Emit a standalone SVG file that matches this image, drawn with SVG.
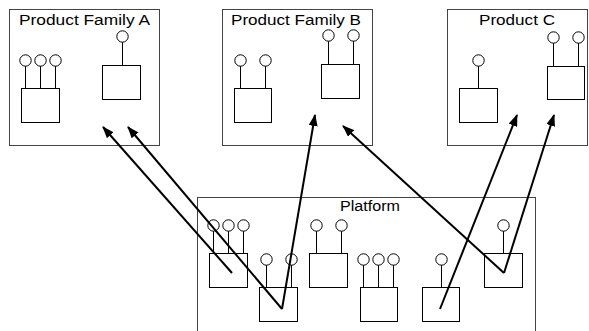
<svg xmlns="http://www.w3.org/2000/svg" width="589" height="331" viewBox="0 0 589 331">
  <style>
    .frame { fill: #ffffff; stroke: #444444; stroke-width: 1; }
    .comp rect { fill: #ffffff; stroke: #000000; stroke-width: 1; }
    .comp line { stroke: #000000; stroke-width: 1; }
    .comp circle { fill: #ffffff; stroke: #000000; stroke-width: 1; }
    .title { font-family: "Liberation Sans", Arial, sans-serif; font-size: 14px; fill: #000000; }
    .conn { stroke: #000000; stroke-width: 2; fill: none; marker-end: url(#head); }
  </style>
  <defs>
    <marker id="head" viewBox="0 0 12 9" refX="11" refY="4.5" markerWidth="12" markerHeight="9" markerUnits="userSpaceOnUse" orient="auto">
      <path d="M0,0 L12,4.5 L0,9 z" fill="#000000"/>
    </marker>
  </defs>

  <!-- Product Family A -->
  <g id="family-a">
    <rect class="frame" x="9.5" y="9.5" width="150" height="136"/>
    <text class="title" x="19" y="25" textLength="131" lengthAdjust="spacingAndGlyphs">Product Family A</text>
    <g class="comp" id="a-comp1">
      <line x1="25.5" y1="66" x2="25.5" y2="88"/>
      <line x1="40.5" y1="66" x2="40.5" y2="88"/>
      <line x1="55.5" y1="66" x2="55.5" y2="88"/>
      <circle cx="25.5" cy="60.5" r="5.7"/>
      <circle cx="40.5" cy="60.5" r="5.7"/>
      <circle cx="55.5" cy="60.5" r="5.7"/>
      <rect x="21.5" y="88.5" width="38" height="34"/>
    </g>
    <g class="comp" id="a-comp2">
      <line x1="122.5" y1="42" x2="122.5" y2="65"/>
      <circle cx="122.5" cy="36.5" r="5.7"/>
      <rect x="102.5" y="65.5" width="38" height="34"/>
    </g>
  </g>

  <!-- Product Family B -->
  <g id="family-b">
    <rect class="frame" x="222.5" y="9.5" width="150" height="136"/>
    <text class="title" x="231" y="25" textLength="130" lengthAdjust="spacingAndGlyphs">Product Family B</text>
    <g class="comp" id="b-comp1">
      <line x1="240.5" y1="66" x2="240.5" y2="88"/>
      <line x1="265.5" y1="66" x2="265.5" y2="88"/>
      <circle cx="240.5" cy="60.5" r="5.7"/>
      <circle cx="265.5" cy="60.5" r="5.7"/>
      <rect x="234.5" y="88.5" width="37" height="34"/>
    </g>
    <g class="comp" id="b-comp2">
      <line x1="328.5" y1="41" x2="328.5" y2="64"/>
      <line x1="353.5" y1="41" x2="353.5" y2="64"/>
      <circle cx="328.5" cy="35.5" r="5.7"/>
      <circle cx="353.5" cy="35.5" r="5.7"/>
      <rect x="321.5" y="64.5" width="38" height="34"/>
    </g>
  </g>

  <!-- Product C -->
  <g id="product-c">
    <rect class="frame" x="447.5" y="9.5" width="140" height="136"/>
    <text class="title" x="479" y="25" textLength="76" lengthAdjust="spacingAndGlyphs">Product C</text>
    <g class="comp" id="c-comp1">
      <line x1="478.5" y1="66" x2="478.5" y2="88"/>
      <circle cx="478.5" cy="60.5" r="5.7"/>
      <rect x="459.5" y="88.5" width="38" height="34"/>
    </g>
    <g class="comp" id="c-comp2">
      <line x1="553.5" y1="43" x2="553.5" y2="66"/>
      <line x1="578.5" y1="43" x2="578.5" y2="66"/>
      <circle cx="553.5" cy="37.5" r="5.7"/>
      <circle cx="578.5" cy="37.5" r="5.7"/>
      <rect x="547.5" y="66.5" width="37" height="33"/>
    </g>
  </g>

  <!-- Platform -->
  <g id="platform">
    <rect class="frame" x="197.5" y="197.5" width="338" height="145"/>
    <text class="title" x="340" y="211" textLength="60" lengthAdjust="spacingAndGlyphs">Platform</text>
    <g class="comp" id="p-comp1">
      <line x1="213.5" y1="231" x2="213.5" y2="253"/>
      <line x1="228.5" y1="231" x2="228.5" y2="253"/>
      <line x1="243.5" y1="231" x2="243.5" y2="253"/>
      <circle cx="213.5" cy="225.5" r="5.7"/>
      <circle cx="228.5" cy="225.5" r="5.7"/>
      <circle cx="243.5" cy="225.5" r="5.7"/>
      <rect x="209.5" y="253.5" width="38" height="34"/>
    </g>
    <g class="comp" id="p-comp2">
      <line x1="266.5" y1="265" x2="266.5" y2="287"/>
      <line x1="291.5" y1="265" x2="291.5" y2="287"/>
      <circle cx="266.5" cy="259.5" r="5.7"/>
      <circle cx="291.5" cy="259.5" r="5.7"/>
      <rect x="259.5" y="287.5" width="38" height="34"/>
    </g>
    <g class="comp" id="p-comp3">
      <line x1="316.5" y1="231" x2="316.5" y2="253"/>
      <line x1="341.5" y1="231" x2="341.5" y2="253"/>
      <circle cx="316.5" cy="225.5" r="5.7"/>
      <circle cx="341.5" cy="225.5" r="5.7"/>
      <rect x="309.5" y="253.5" width="38" height="34"/>
    </g>
    <g class="comp" id="p-comp4">
      <line x1="363.5" y1="265" x2="363.5" y2="287"/>
      <line x1="378.5" y1="265" x2="378.5" y2="287"/>
      <line x1="393.5" y1="265" x2="393.5" y2="287"/>
      <circle cx="363.5" cy="259.5" r="5.7"/>
      <circle cx="378.5" cy="259.5" r="5.7"/>
      <circle cx="393.5" cy="259.5" r="5.7"/>
      <rect x="360.5" y="287.5" width="37" height="34"/>
    </g>
    <g class="comp" id="p-comp5">
      <line x1="441.5" y1="265" x2="441.5" y2="287"/>
      <circle cx="441.5" cy="259.5" r="5.7"/>
      <rect x="422.5" y="287.5" width="37" height="34"/>
    </g>
    <g class="comp" id="p-comp6">
      <line x1="503.5" y1="231" x2="503.5" y2="253"/>
      <circle cx="503.5" cy="225.5" r="5.7"/>
      <rect x="484.5" y="253.5" width="38" height="34"/>
    </g>
  </g>

  <!-- Reuse connectors from platform components to products -->
  <g id="connectors">
    <line class="conn" x1="232" y1="273" x2="103" y2="127"/>
    <line class="conn" x1="282" y1="309" x2="128" y2="127"/>
    <line class="conn" x1="282" y1="309" x2="315" y2="115"/>
    <line class="conn" x1="504" y1="273" x2="343" y2="126"/>
    <line class="conn" x1="440" y1="309" x2="517" y2="115"/>
    <line class="conn" x1="504" y1="273" x2="554" y2="115"/>
  </g>
</svg>
